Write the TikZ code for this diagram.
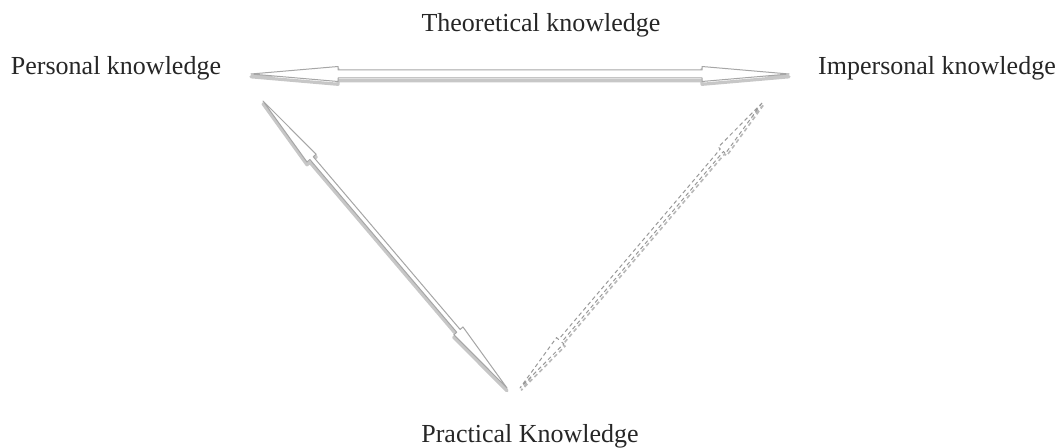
\documentclass[tikz,border=0pt]{standalone}
\usepackage{fontspec}
\setmainfont{Liberation Serif}
\usepackage{tikz}
\usetikzlibrary{calc, positioning}

% hollow two-way arrow between two named points
% #1 style, #2 from, #3 to, #4 head length, #5 head half width, #6 shaft half width
\newcommand\knarrow[6][knbody]{%
  \draw[#1] (#2) -- ($(#2)!#4!(#3)!#5!90:(#3)$) -- ($(#2)!#4!(#3)!#6!90:(#3)$)
    -- ($(#3)!#4!(#2)!#6!-90:(#2)$) -- ($(#3)!#4!(#2)!#5!-90:(#2)$) -- (#3)
    -- ($(#3)!#4!(#2)!#5!90:(#2)$) -- ($(#3)!#4!(#2)!#6!90:(#2)$)
    -- ($(#2)!#4!(#3)!#6!-90:(#3)$) -- ($(#2)!#4!(#3)!#5!-90:(#3)$) -- cycle;}

\begin{document}
\begin{tikzpicture}[x=0.5pt, y=-0.5pt, font=\fontsize{13}{15}\selectfont,
  lbl/.style={anchor=base, inner sep=0pt, text=black!85},
  knbody/.style={fill=white, draw=black!35, line width=0.5pt, line join=round,
    preaction={draw=black!22, line width=1.6pt, line join=round,
      transform canvas={yshift=-1.4pt}}},
  kndashed/.style={fill=white, draw=black!40, line width=0.5pt, line join=round,
    dash pattern=on 2pt off 1.5pt,
    preaction={draw=black!28, line width=0.8pt, dash pattern=on 2pt off 1.5pt,
      transform canvas={xshift=0.6pt, yshift=-1.2pt}}}]
  \useasboundingbox (0,0) rectangle (1059,448);

  % labels
  \node[lbl] (theo) at (541,32) {Theoretical knowledge};
  \node[lbl] (pers) at (116,75) {Personal knowledge};
  \node[lbl] (impers) at (937,75) {Impersonal knowledge};
  \node[lbl] (prac) at (530,442) {Practical Knowledge};

  % arrow ends
  \coordinate (persR) at (251,74);
  \coordinate (impersL) at (789,74);
  \coordinate (persD) at (263,101);
  \coordinate (pracL) at (507,388);
  \coordinate (impersD) at (762,103);
  \coordinate (pracR) at (520,388);

  \knarrow{persR}{impersL}{43.5pt}{3.75pt}{2pt}
  \knarrow{persD}{pracL}{37.5pt}{3pt}{1.1pt}
  \knarrow[kndashed]{impersD}{pracR}{31pt}{2.4pt}{1pt}
\end{tikzpicture}
\end{document}
